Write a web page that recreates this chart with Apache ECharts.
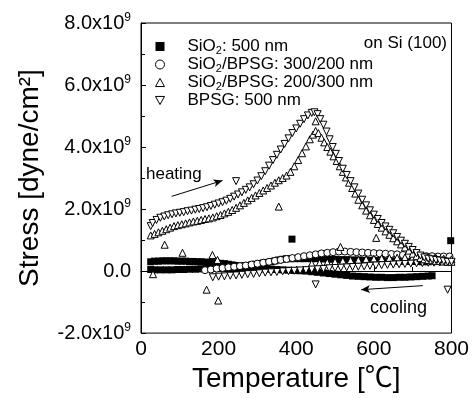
<!DOCTYPE html>
<html><head><meta charset="utf-8">
<script src="https://cdn.jsdelivr.net/npm/echarts@6/dist/echarts.min.js"></script>
<style>html,body{margin:0;padding:0;background:#fff}#c{width:472px;height:398px}</style>
</head><body><div id="c"></div>
<script>
// Stress values in units of 1e9 dyne/cm^2, temperature in °C
const seriesNames = ['SiO2: 500 nm', 'SiO2/BPSG: 300/200 nm', 'SiO2/BPSG: 200/300 nm', 'BPSG: 500 nm'];
const xTicks = [0, 200, 400, 600, 800];
const yTicks = [-2, 0, 2, 4, 6, 8];

const sio2Heat = [[25,0.3],[35,0.32],[45,0.32],[55,0.33],[65,0.33],[75,0.33],[85,0.33],[95,0.32],[105,0.32],[115,0.32],[125,0.31],[135,0.31],[145,0.3],[155,0.3],[165,0.29],[175,0.28],[185,0.27],[195,0.26],[205,0.25],[215,0.24],[225,0.22],[235,0.2],[245,0.18],[255,0.17],[265,0.17],[275,0.18],[285,0.2],[295,0.22],[305,0.24],[315,0.26],[325,0.28],[335,0.3],[345,0.33],[355,0.36],[365,0.38],[375,0.4],[385,0.4],[395,0.4],[410,0.4],[425,0.4],[440,0.4],[455,0.4],[470,0.39],[485,0.38],[500,0.38],[515,0.37],[530,0.37],[545,0.36],[560,0.36],[575,0.35],[590,0.35],[605,0.34],[620,0.34],[635,0.33],[650,0.33],[665,0.32],[680,0.32],[695,0.31],[710,0.31],[725,0.3],[740,0.3]];
const sio2Cool = [[750,-0.15],[740,-0.16],[725,-0.17],[710,-0.18],[695,-0.19],[680,-0.2],[665,-0.2],[650,-0.21],[635,-0.21],[620,-0.2],[605,-0.2],[590,-0.19],[575,-0.18],[560,-0.17],[545,-0.16],[530,-0.14],[515,-0.12],[500,-0.1],[485,-0.08],[470,-0.06],[455,-0.04],[440,-0.02],[425,0.0],[410,0.01],[395,0.02],[380,0.03],[365,0.04],[350,0.05],[335,0.06],[320,0.07],[305,0.08],[290,0.09],[275,0.1],[260,0.1],[245,0.1],[230,0.1],[215,0.1],[200,0.1],[185,0.09],[170,0.08],[155,0.07],[140,0.06],[125,0.06],[110,0.05],[95,0.05],[80,0.04],[65,0.04],[50,0.04],[35,0.04],[25,0.05]];
const sio2Stray = [[389,1.03],[798,0.98]];

const s300Heat = [[165,0.03],[180,0.05],[195,0.08],[210,0.1],[225,0.12],[240,0.14],[255,0.16],[270,0.18],[285,0.21],[300,0.24],[315,0.27],[330,0.3],[345,0.33],[360,0.36],[375,0.39],[390,0.42],[405,0.45],[420,0.48],[435,0.51],[450,0.54],[465,0.57],[480,0.59],[495,0.61],[510,0.63],[525,0.63],[540,0.62],[555,0.61],[570,0.6],[585,0.59],[600,0.58],[615,0.57],[630,0.56],[645,0.55],[660,0.54],[675,0.52],[690,0.51],[705,0.5],[720,0.49],[735,0.48],[750,0.48],[765,0.47],[780,0.47],[795,0.47]];

const s200Heat = [[25,1.15],[35,1.2],[45,1.25],[55,1.3],[65,1.35],[75,1.4],[85,1.45],[95,1.48],[105,1.51],[115,1.54],[125,1.57],[135,1.6],[145,1.62],[155,1.65],[165,1.68],[175,1.7],[185,1.73],[195,1.77],[205,1.81],[215,1.86],[225,1.91],[235,1.97],[245,2.04],[255,2.12],[265,2.2],[275,2.28],[285,2.36],[295,2.44],[305,2.52],[315,2.6],[325,2.68],[335,2.76],[345,2.85],[355,2.93],[365,3.0],[375,3.08],[385,3.2],[395,3.38],[405,3.58],[415,3.8],[425,4.02],[435,4.25],[443,4.4],[450,4.52],[457,4.45],[465,4.3],[472,4.15],[480,4.0],[488,3.85],[496,3.7],[504,3.55],[512,3.38],[520,3.2],[528,3.02],[536,2.85],[544,2.68],[552,2.5],[560,2.3],[570,2.12],[580,1.95],[590,1.8],[600,1.65],[610,1.52],[620,1.4],[630,1.28],[640,1.17],[650,1.06],[660,0.96],[670,0.86],[680,0.76],[690,0.66],[700,0.56],[710,0.48],[720,0.42],[730,0.38],[740,0.36],[750,0.35],[760,0.33],[770,0.32],[780,0.31],[790,0.3],[800,0.3]];
const s200Cool = [[800,0.38],[780,0.4],[760,0.42],[740,0.43],[720,0.44],[700,0.44],[680,0.44],[660,0.43],[640,0.42],[620,0.41],[600,0.4],[580,0.38],[560,0.36],[540,0.35],[520,0.33],[500,0.3],[480,0.28],[460,0.26],[440,0.24]];
const s200Stray = [[31,-0.1],[61,0.85],[107,0.59],[169,-0.6],[184,0.52],[197,0.36],[199,-0.95],[355,2.08],[450,4.83],[514,0.78],[606,1.07]];

const bpsgHeat = [[25,1.45],[30,1.55],[40,1.65],[50,1.72],[60,1.76],[70,1.8],[80,1.83],[90,1.86],[100,1.88],[110,1.9],[120,1.93],[130,1.95],[140,1.98],[150,2.0],[160,2.03],[170,2.06],[180,2.1],[190,2.14],[200,2.18],[210,2.22],[220,2.27],[230,2.33],[240,2.4],[250,2.47],[260,2.54],[270,2.62],[280,2.7],[290,2.8],[300,2.92],[310,3.06],[320,3.22],[330,3.4],[340,3.58],[350,3.75],[360,3.92],[370,4.1],[380,4.28],[390,4.45],[400,4.6],[410,4.75],[420,4.9],[430,5.02],[440,5.1],[447,5.12],[455,5.06],[462,4.9],[470,4.72],[478,4.5],[486,4.25],[494,4.0],[502,3.78],[510,3.55],[520,3.3],[530,3.1],[540,2.9],[550,2.7],[560,2.5],[570,2.3],[580,2.12],[590,1.96],[600,1.82],[610,1.68],[620,1.55],[630,1.44],[640,1.33],[650,1.22],[660,1.1],[670,0.98],[680,0.88],[690,0.78],[700,0.68],[710,0.58],[720,0.5],[730,0.44],[740,0.4],[750,0.38],[760,0.36],[770,0.34],[780,0.32],[790,0.3],[800,0.3]];
const bpsgCool = [[800,0.28],[785,0.28],[770,0.28],[755,0.27],[740,0.27],[725,0.26],[710,0.25],[695,0.24],[680,0.23],[665,0.22],[650,0.21],[635,0.2],[620,0.19],[605,0.18],[590,0.17],[575,0.15],[560,0.14],[545,0.13],[530,0.12],[515,0.11],[500,0.1],[485,0.09],[470,0.07],[455,0.06],[440,0.05],[425,0.03],[410,0.02],[395,0.01],[380,0.0],[365,-0.01],[350,-0.03],[335,-0.04],[320,-0.05],[305,-0.07],[290,-0.09],[275,-0.1],[260,-0.12],[245,-0.14],[230,-0.15],[215,-0.17],[200,-0.18],[185,-0.2]];
const bpsgStray = [[245,2.9],[450,-0.43],[790,-0.6]];

const heatingArrow = [[79,2.41],[210,2.92]];
const coolingArrow = [[726,-0.47],[567,-0.6]];

const FONT = '"Liberation Sans", Arial, Helvetica, sans-serif';
const chart = echarts.init(document.getElementById('c'), null, {renderer: 'canvas'});

const hollow = {color: '#fff', borderColor: '#000', borderWidth: 1, opacity: 1};
const stSquare = {symbol: 'rect', symbolSize: 7, itemStyle: {color: '#000', opacity: 1}};
const stCircle = {symbol: 'circle', symbolSize: 7, itemStyle: hollow};
const stUp = {symbol: 'triangle', symbolSize: 7, itemStyle: hollow};
const stDown = {symbol: 'triangle', symbolRotate: 180, symbolSize: 7, itemStyle: hollow};

function sc(name, data, st) {
  return Object.assign({type: 'scatter', name: name, data: data, animation: false, silent: true,
    emphasis: {disabled: true}}, st);
}

const legendHollow = {color: '#fff', borderColor: '#000', borderWidth: 1, opacity: 1};
const option = {
  animation: false,
  backgroundColor: '#fff',
  grid: {left: 141, right: 18, top: 23, bottom: 62, show: true, borderColor: '#000', borderWidth: 1},
  legend: {
    data: [
      {name: seriesNames[0], icon: 'rect', itemStyle: {color: '#000', opacity: 1}},
      {name: seriesNames[1], icon: 'circle', itemStyle: legendHollow},
      {name: seriesNames[2], icon: 'path://M5,0 L10,9 L0,9 Z', itemStyle: legendHollow},
      {name: seriesNames[3], icon: 'path://M0,0 L10,0 L5,9 Z', itemStyle: legendHollow}
    ],
    orient: 'vertical', left: 150, top: 33, itemGap: 0,
    itemWidth: 9, itemHeight: 9, selectedMode: false,
    formatter: n => n.indexOf('SiO2') === 0 ? '{n|SiO}{s|2}{n|' + n.slice(4) + '}' : '{n|' + n + '}',
    textStyle: {
      padding: [0, 0, 0, 18], fontFamily: FONT, color: '#000',
      rich: {
        n: {fontSize: 17, lineHeight: 19, fontFamily: FONT, color: '#000'},
        s: {fontSize: 11, lineHeight: 8, verticalAlign: 'bottom', fontFamily: FONT, color: '#000'}
      }
    }
  },
  xAxis: {
    type: 'value', min: 0, max: 800, interval: 200,
    name: 'Temperature [℃]', nameLocation: 'middle', nameGap: 29,
    nameTextStyle: {fontSize: 28, color: '#000', fontFamily: FONT + ', "Noto Sans CJK SC"'},
    axisLine: {show: true, lineStyle: {color: '#000', width: 1}},
    axisTick: {show: true, inside: true, length: 5, lineStyle: {color: '#000'}},
    minorTick: {show: true, splitNumber: 2, length: 4, lineStyle: {color: '#000'}},
    splitLine: {show: false},
    axisLabel: {fontSize: 21, color: '#000', fontFamily: FONT, margin: 6,
      formatter: v => xTicks.indexOf(v) >= 0 ? String(v) : ''}
  },
  yAxis: {
    type: 'value', min: -2, max: 8, interval: 2,
    name: 'Stress [dyne/cm²]', nameLocation: 'middle', nameGap: 97,
    nameTextStyle: {fontSize: 28, color: '#000', fontFamily: FONT},
    axisLine: {show: true, lineStyle: {color: '#000', width: 1}},
    axisTick: {show: true, inside: true, length: 5, lineStyle: {color: '#000'}},
    minorTick: {show: true, splitNumber: 2, length: 4, lineStyle: {color: '#000'}},
    splitLine: {show: false},
    axisLabel: {
      color: '#000', fontFamily: FONT, margin: 10,
      formatter: v => yTicks.indexOf(v) < 0 ? '' : (v === 0 ? '{a|0.0}' : '{a|' + v.toFixed(1) + 'x10}{s|9}'),
      rich: {
        a: {fontSize: 20, lineHeight: 22, fontFamily: FONT, color: '#000'},
        s: {fontSize: 12, lineHeight: 10, verticalAlign: 'top', fontFamily: FONT, color: '#000'}
      }
    }
  },
  graphic: [
    {type: 'text', x: 447, y: 43, style: {text: 'on Si (100)', font: '17px ' + FONT, fill: '#000', align: 'right', verticalAlign: 'middle'}},
    {type: 'text', x: 146, y: 174, style: {text: 'heating', font: '17px ' + FONT, fill: '#000', align: 'left', verticalAlign: 'middle'}},
    {type: 'text', x: 370, y: 308, style: {text: 'cooling', font: '18px ' + FONT, fill: '#000', align: 'left', verticalAlign: 'middle'}}
  ],
  series: [
    sc(seriesNames[0], sio2Heat, stSquare),
    sc(seriesNames[0], sio2Cool, stSquare),
    sc(seriesNames[1], s300Heat, stCircle),
    sc(seriesNames[2], s200Cool, stUp),
    sc(seriesNames[3], bpsgCool, stDown),
    sc(seriesNames[2], s200Heat, stUp),
    sc(seriesNames[3], bpsgHeat, stDown),
    sc(seriesNames[2], s200Stray, stUp),
    sc(seriesNames[3], bpsgStray, stDown),
    sc(seriesNames[0], sio2Stray, stSquare),
    {
      type: 'scatter', data: [], silent: true,
      markLine: {
        silent: true, animation: false, symbol: ['none', 'arrow'], symbolSize: [6, 9],
        lineStyle: {color: '#000', width: 1, type: 'solid', opacity: 1}, label: {show: false},
        emphasis: {disabled: true},
        data: [
          [{coord: heatingArrow[0]}, {coord: heatingArrow[1]}],
          [{coord: coolingArrow[0]}, {coord: coolingArrow[1]}]
        ]
      }
    }
  ]
};
chart.setOption(option);
</script></body></html>
